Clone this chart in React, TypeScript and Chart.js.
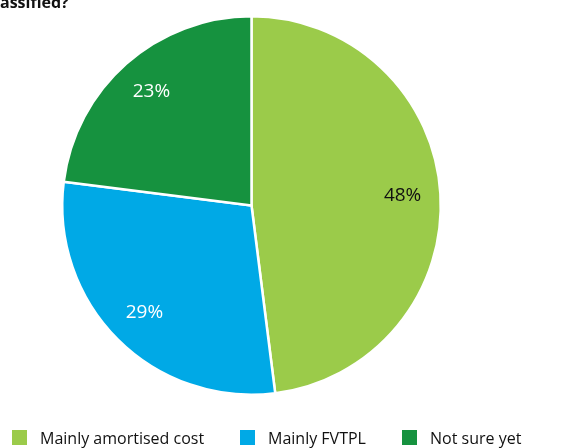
import React, { useEffect, useRef } from "react";
import { Chart, registerables } from "chart.js";

Chart.register(...registerables);

const categories = ["Mainly amortised cost", "Mainly FVTPL", "Not sure yet"];
const values = [48, 29, 23];
const colors = ["#9BCB4A", "#00A9E6", "#16923F"];
const labelColors = ["#111111", "#ffffff", "#ffffff"];
const titleText = "assified?";
const legendX = [12, 240, 402];

const FONT = "'Open Sans', 'Noto Sans', sans-serif";

const overlay = {
  id: "overlay",
  afterDatasetsDraw(chart: any) {
    const ctx = chart.ctx;
    const meta = chart.getDatasetMeta(0);
    ctx.save();
    ctx.font = `19px ${FONT}`;
    ctx.textAlign = "center";
    ctx.textBaseline = "middle";
    meta.data.forEach((arc: any, i: number) => {
      const p = arc.getProps(["x", "y", "startAngle", "endAngle", "outerRadius"], true);
      const mid = (p.startAngle + p.endAngle) / 2;
      const r = p.outerRadius * 0.8;
      ctx.fillStyle = labelColors[i];
      ctx.fillText(`${values[i]}%`, p.x + Math.cos(mid) * r, p.y + Math.sin(mid) * r);
    });
    // title fragment
    ctx.textAlign = "left";
    ctx.textBaseline = "alphabetic";
    ctx.fillStyle = "#111111";
    ctx.font = `bold 16px ${FONT}`;
    ctx.fillText(titleText, 0, 8);
    // legend
    ctx.font = `16px ${FONT}`;
    categories.forEach((c, i) => {
      const x = legendX[i];
      ctx.fillStyle = colors[i];
      ctx.fillRect(x, 430, 15, 15);
      ctx.fillStyle = "#111111";
      ctx.textBaseline = "middle";
      ctx.fillText(c, x + 28, 439);
    });
    ctx.restore();
  },
};

export default function App() {
  const ref = useRef<HTMLCanvasElement>(null);
  useEffect(() => {
    const chart = new Chart(ref.current!, {
      type: "pie",
      data: {
        labels: categories,
        datasets: [
          {
            data: values,
            backgroundColor: colors,
            borderColor: "#ffffff",
            borderWidth: 2.5,
          },
        ],
      },
      options: {
        animation: false,
        responsive: false,
        layout: { padding: { left: 61, right: 129, top: 15, bottom: 52 } },
        plugins: {
          legend: { display: false },
          tooltip: { enabled: false },
          title: { display: false },
        },
      },
      plugins: [overlay],
    });
    return () => chart.destroy();
  }, []);
  return (
    <div style={{ position: "fixed", left: 0, top: 0, width: 571, height: 448, background: "#fff" }}>
      <canvas ref={ref} width={571} height={448} style={{ display: "block" }} />
    </div>
  );
}
